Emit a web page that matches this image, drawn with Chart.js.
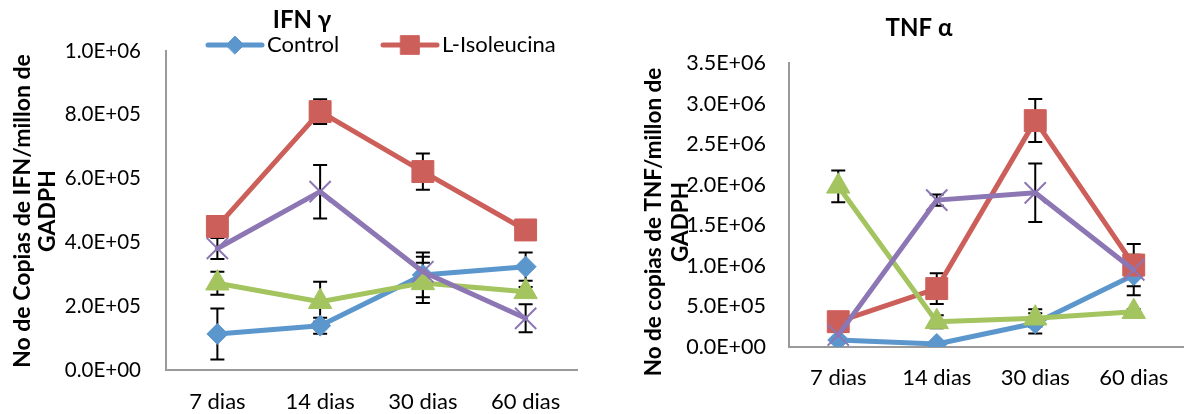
<!DOCTYPE html>
<html>
<head>
<meta charset="utf-8">
<script src="https://cdn.jsdelivr.net/npm/chart.js@4.4.0/dist/chart.umd.min.js"></script>
<style>
  html, body { margin: 0; padding: 0; background: #fff; overflow: hidden; width: 1184px; height: 414px; }
  .box { position: absolute; top: 0; height: 414px; }
  #ifnBox { left: 0; width: 600px; }
  #tnfBox { left: 600px; width: 600px; }
</style>
</head>
<body>
<div class="box" id="ifnBox"><canvas id="ifnChart" width="600" height="414"></canvas></div>
<div class="box" id="tnfBox"><canvas id="tnfChart" width="600" height="414"></canvas></div>
<script>
// Time points
const dias = ['7 dias', '14 dias', '30 dias', '60 dias'];
const seriesNames = ['Control', 'L-Isoleucina', 'Serie 3', 'Serie 4'];

// IFN gamma: copies per million GADPH (mean and error)
const ifnControl = [1.13e5, 1.39e5, 2.98e5, 3.24e5];
const ifnControlErr = [8.0e4, 2.5e4, 7.0e4, 4.4e4];
const ifnIsoleucina = [4.5e5, 8.1e5, 6.22e5, 4.39e5];
const ifnIsoleucinaErr = [1.5e4, 3.9e4, 5.7e4, 1.5e4];
const ifnSerie3 = [2.72e5, 2.14e5, 2.73e5, 2.45e5];
const ifnSerie3Err = [3.6e4, 6.3e4, 6.3e4, 1.5e4];
const ifnSerie4 = [3.81e5, 5.59e5, 3.08e5, 1.62e5];
const ifnSerie4Err = [3.3e4, 8.4e4, 4.7e4, 4.4e4];

// TNF alpha: copies per million GADPH (mean and error)
const tnfControl = [8.6e4, 3.7e4, 2.92e5, 8.87e5];
const tnfControlErr = [3.0e4, 2.0e4, 1.25e5, 2.5e5];
const tnfIsoleucina = [3.12e5, 7.2e5, 2.79e6, 1.01e6];
const tnfIsoleucinaErr = [5.0e4, 1.9e5, 2.65e5, 2.6e5];
const tnfSerie3 = [1.98e6, 3.1e5, 3.55e5, 4.35e5];
const tnfSerie3Err = [1.95e5, 8.0e4, 1.1e5, 3.0e4];
const tnfSerie4 = [1.48e5, 1.81e6, 1.9e6, 9.5e5];
const tnfSerie4Err = [4.0e4, 7.0e4, 3.6e5, 5.0e4];

// Axis tick labels
const ifnTickLabels = ['0.0E+00', '2.0E+05', '4.0E+05', '6.0E+05', '8.0E+05', '1.0E+06'];
const tnfTickLabels = ['0.0E+00', '5.0E+05', '1.0E+06', '1.5E+06', '2.0E+06', '2.5E+06', '3.0E+06', '3.5E+06'];

const FONT = 'Lato, "Open Sans", sans-serif';

const seriesStyles = [
  { color: '#5B96CD', pointStyle: 'rectRot', radius: 10.5, pointBorder: 1, order: 3 },
  { color: '#CD5F5A', pointStyle: 'rect', radius: 15.5, pointBorder: 1, order: 2 },
  { color: '#A3C45F', pointStyle: 'triangle', radius: 13.5, pointBorder: 1, order: 1 },
  { color: '#8C76B4', pointStyle: 'crossRot', radius: 15, pointBorder: 2, order: 0 }
];

// Vertical error bars, drawn under the lines and markers
const errorBarPlugin = {
  id: 'errorBars',
  beforeDatasetsDraw(chart, args, opts) {
    const ctx = chart.ctx;
    const yScale = chart.scales.y;
    ctx.save();
    ctx.strokeStyle = opts.color;
    ctx.lineWidth = opts.width;
    chart.data.datasets.forEach((ds, i) => {
      if (!ds.errors) return;
      const meta = chart.getDatasetMeta(i);
      meta.data.forEach((pt, j) => {
        const v = ds.data[j];
        const e = ds.errors[j];
        const top = yScale.getPixelForValue(v + e);
        const bot = yScale.getPixelForValue(v - e);
        const x = pt.x;
        ctx.beginPath();
        ctx.moveTo(x, top); ctx.lineTo(x, bot);
        ctx.moveTo(x - opts.cap, top); ctx.lineTo(x + opts.cap, top);
        ctx.moveTo(x - opts.cap, bot); ctx.lineTo(x + opts.cap, bot);
        ctx.stroke();
      });
    });
    ctx.restore();
  }
};

// Legend entries drawn as a line sample with the series marker in the middle
const lineLegendPlugin = {
  id: 'lineLegend',
  afterDraw(chart, args, opts) {
    if (!opts.items || !opts.items.length) return;
    const ctx = chart.ctx;
    ctx.save();
    opts.items.forEach(item => {
      const ds = chart.data.datasets[item.dataset];
      const x0 = item.x, x1 = item.x + opts.sampleWidth, y = opts.y;
      ctx.strokeStyle = ds.borderColor;
      ctx.lineWidth = ds.borderWidth;
      ctx.lineCap = 'round';
      ctx.beginPath(); ctx.moveTo(x0, y); ctx.lineTo(x1, y); ctx.stroke();
      ctx.fillStyle = ds.pointBackgroundColor;
      ctx.strokeStyle = ds.pointBorderColor;
      ctx.lineWidth = ds.pointBorderWidth;
      Chart.helpers.drawPoint(ctx, {
        pointStyle: ds.pointStyle, rotation: 0,
        radius: ds.pointRadius * opts.markerScale, borderWidth: ds.pointBorderWidth
      }, (x0 + x1) / 2, y);
      ctx.fillStyle = opts.color;
      ctx.font = opts.font;
      ctx.textAlign = 'left';
      ctx.textBaseline = 'middle';
      ctx.fillText(ds.label, x1 + opts.gap, y);
    });
    ctx.restore();
  }
};

// Rotated two-line title beside the value axis
const sideTitlePlugin = {
  id: 'sideTitle',
  afterDraw(chart, args, opts) {
    const ctx = chart.ctx;
    ctx.save();
    ctx.fillStyle = opts.color;
    ctx.font = opts.font;
    ctx.textAlign = 'center';
    ctx.textBaseline = 'middle';
    opts.lines.forEach((line, i) => {
      ctx.save();
      ctx.translate(opts.xs[i], opts.y);
      ctx.rotate(-Math.PI / 2);
      ctx.fillText(line, 0, 0);
      ctx.restore();
    });
    ctx.restore();
  }
};

function makeDatasets(values, errors) {
  return values.map((vals, i) => {
    const s = seriesStyles[i];
    return {
      label: seriesNames[i],
      data: vals,
      errors: errors[i],
      borderColor: s.color,
      backgroundColor: s.color,
      borderWidth: 5,
      borderJoinStyle: 'round',
      borderCapStyle: 'round',
      tension: 0,
      fill: false,
      pointStyle: s.pointStyle,
      pointRadius: s.radius,
      pointHoverRadius: s.radius,
      pointBackgroundColor: s.color,
      pointBorderColor: s.color,
      pointBorderWidth: s.pointBorder,
      order: s.order
    };
  });
}

function buildChart(canvasId, cfg) {
  return new Chart(document.getElementById(canvasId), {
    type: 'line',
    data: { labels: dias, datasets: makeDatasets(cfg.values, cfg.errors) },
    plugins: [errorBarPlugin, lineLegendPlugin, sideTitlePlugin],
    options: {
      responsive: false,
      animation: false,
      events: [],
      layout: { padding: { left: cfg.padLeft, right: cfg.padRight, top: 0, bottom: 0 } },
      scales: {
        x: {
          type: 'category',
          offset: true,
          grid: { display: false, drawTicks: false },
          border: { display: true, color: '#9a9a9a', width: 2 },
          ticks: { color: '#000', padding: cfg.xPad, maxRotation: 0, autoSkip: false,
                   font: { family: FONT, size: 22 } },
          afterFit(scale) { scale.height = cfg.xHeight; }
        },
        y: {
          min: 0,
          max: cfg.max,
          grid: { display: false, drawTicks: false },
          border: { display: true, color: '#9a9a9a', width: 2 },
          ticks: {
            stepSize: cfg.step,
            color: '#000',
            padding: cfg.yPad,
            font: { family: FONT, size: cfg.yFont },
            callback: (value, index) => cfg.tickLabels[index]
          },
          afterFit(scale) { scale.width = cfg.yWidth; }
        }
      },
      plugins: {
        legend: { display: false },
        tooltip: { enabled: false },
        title: {
          display: true,
          text: cfg.title,
          color: '#000',
          font: { family: FONT, size: 24, weight: 'bold', lineHeight: 1 },
          padding: { top: cfg.titleTop, bottom: cfg.titleBottom }
        },
        errorBars: { color: '#000', width: 2, cap: 7 },
        lineLegend: {
          items: cfg.legendItems,
          y: 45, sampleWidth: 54, gap: 5, markerScale: 0.85,
          color: '#000', font: '22px ' + FONT
        },
        sideTitle: {
          lines: cfg.yTitle, xs: cfg.yTitleX, y: cfg.yTitleY,
          color: '#000', font: 'bold ' + cfg.yTitleSize + 'px ' + FONT
        }
      }
    }
  });
}

buildChart('ifnChart', {
  title: 'IFN \u03b3',
  values: [ifnControl, ifnIsoleucina, ifnSerie3, ifnSerie4],
  errors: [ifnControlErr, ifnIsoleucinaErr, ifnSerie3Err, ifnSerie4Err],
  tickLabels: ifnTickLabels,
  max: 1e6, step: 2e5,
  padLeft: 27, padRight: 23, yWidth: 139, yPad: 25, yFont: 20.5,
  xHeight: 44, xPad: 19,
  titleTop: 8, titleBottom: 19,
  legendItems: [{ dataset: 0, x: 208 }, { dataset: 1, x: 383 }],
  yTitle: ['No de Copias de IFN/millon de', 'GADPH'],
  yTitleX: [23, 48], yTitleY: 211, yTitleSize: 23
});

buildChart('tnfChart', {
  title: 'TNF \u03b1',
  values: [tnfControl, tnfIsoleucina, tnfSerie3, tnfSerie4],
  errors: [tnfControlErr, tnfIsoleucinaErr, tnfSerie3Err, tnfSerie4Err],
  tickLabels: tnfTickLabels,
  max: 3.5e6, step: 5e5,
  padLeft: 43, padRight: 5, yWidth: 146, yPad: 23, yFont: 21.5,
  xHeight: 67, xPad: 18,
  titleTop: 16, titleBottom: 23,
  legendItems: [],
  yTitle: ['No de copias de TNF/millon de', 'GADPH'],
  yTitleX: [54, 81], yTitleY: 222, yTitleSize: 22.5
});
</script>
</body>
</html>
